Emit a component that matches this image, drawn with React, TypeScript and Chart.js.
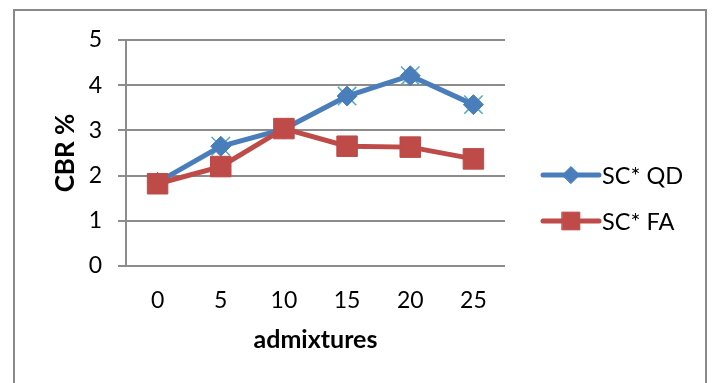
import React, { useEffect, useRef } from "react";
import { Chart, registerables } from "chart.js";
import { drawPoint } from "chart.js/helpers";

Chart.register(...registerables);

// Admixture content and CBR results for the two soil mixes
const admixtures = ["0", "5", "10", "15", "20", "25"];
const scQD = [1.85, 2.65, 3.03, 3.76, 4.21, 3.57];
const scFA = [1.82, 2.2, 3.04, 2.65, 2.63, 2.37];
const yTicks = [0, 1, 2, 3, 4, 5];

const BLUE = "#4A7EBB";
const RED = "#BE4B48";
const TEAL = "#4BACC6";
const GRID = "#8c8c8c";
const FONT = "Lato, 'Open Sans', sans-serif";

// Outer frame around the whole chart
const framePlugin = {
  id: "frame",
  beforeDraw(chart: any) {
    const { ctx } = chart;
    ctx.save();
    ctx.fillStyle = "#ffffff";
    ctx.fillRect(0, 0, chart.width, chart.height);
    ctx.strokeStyle = "#898989";
    ctx.lineWidth = 2;
    ctx.strokeRect(14, 10, chart.width - 21, chart.height + 20);
    ctx.restore();
  },
};

// Legend to the right of the plot: line segment with centred marker, then label
const sideLegendPlugin = {
  id: "sideLegend",
  afterDraw(chart: any) {
    const { ctx, chartArea } = chart;
    const items = chart.data.datasets
      .filter((d: any) => d.legendIndex !== undefined)
      .sort((a: any, b: any) => a.legendIndex - b.legendIndex);
    const x0 = chartArea.right + 38;
    const x1 = x0 + 56;
    const yStart = 175;
    const gap = 46;
    ctx.save();
    items.forEach((ds: any, i: number) => {
      const y = yStart + i * gap;
      ctx.strokeStyle = ds.borderColor;
      ctx.lineWidth = ds.borderWidth;
      ctx.lineCap = "round";
      ctx.beginPath();
      ctx.moveTo(x0, y);
      ctx.lineTo(x1, y);
      ctx.stroke();
      ctx.fillStyle = ds.pointBackgroundColor;
      ctx.strokeStyle = ds.pointBorderColor;
      ctx.lineWidth = 1;
      drawPoint(
        ctx,
        { pointStyle: ds.pointStyle, radius: ds.legendRadius, borderWidth: 1, rotation: 0 } as any,
        (x0 + x1) / 2,
        y
      );
      ctx.fillStyle = "#000000";
      ctx.font = `23.5px ${FONT}`;
      ctx.textBaseline = "middle";
      ctx.textAlign = "left";
      ctx.fillText(ds.label, x1 + 3, y + 1);
    });
    ctx.restore();
  },
};

export default function App() {
  const canvasRef = useRef<HTMLCanvasElement | null>(null);

  useEffect(() => {
    document.body.style.margin = "0";
    const canvas = canvasRef.current;
    if (!canvas) return;
    const chart = new Chart(canvas, {
      type: "line",
      data: {
        labels: admixtures,
        datasets: [
          {
            label: "SC* QD",
            data: scQD,
            borderColor: BLUE,
            borderWidth: 5,
            pointStyle: "rectRot",
            pointRadius: 10,
            legendRadius: 8.5,
            pointBackgroundColor: BLUE,
            pointBorderColor: BLUE,
            pointBorderWidth: 1,
            order: 2,
            legendIndex: 0,
          } as any,
          {
            label: "SC* FA",
            data: scFA,
            borderColor: RED,
            borderWidth: 5,
            pointStyle: "rect",
            pointRadius: 14.5,
            legendRadius: 12.5,
            pointBackgroundColor: RED,
            pointBorderColor: RED,
            pointBorderWidth: 1,
            order: 1,
            legendIndex: 1,
          } as any,
          {
            // cross markers sitting behind the SC* QD diamonds
            label: "SC* QD markers",
            data: scQD,
            showLine: false,
            pointStyle: "crossRot",
            pointRadius: 13,
            pointBorderColor: TEAL,
            pointBackgroundColor: TEAL,
            pointBorderWidth: 1.5,
            borderColor: TEAL,
            order: 3,
          } as any,
        ],
      },
      options: {
        animation: false,
        responsive: false,
        devicePixelRatio: 1,
        layout: { padding: { left: 0, right: 208, top: 40, bottom: 0 } },
        plugins: {
          legend: { display: false },
          tooltip: { enabled: false },
        },
        scales: {
          x: {
            offset: true,
            grid: { display: false },
            border: { display: false },
            ticks: { color: "#000", font: { family: FONT, size: 23 }, padding: 13 },
            title: {
              display: true,
              text: "admixtures",
              color: "#000",
              font: { family: FONT, size: 25, weight: "bold" },
              padding: { top: 0, bottom: 28 },
            },
            afterFit(scale: any) {
              scale.height = 117;
            },
          },
          y: {
            min: 0,
            max: 5,
            afterBuildTicks(scale: any) {
              scale.ticks = yTicks.map((v) => ({ value: v }));
            },
            grid: { color: GRID, lineWidth: 2, tickLength: 8, drawTicks: true },
            border: { display: true, color: GRID, width: 2 },
            ticks: { color: "#000", font: { family: FONT, size: 23 }, padding: 16 },
            title: {
              display: true,
              text: "CBR %",
              color: "#000",
              font: { family: FONT, size: 26, weight: "bold" },
              padding: { top: 50, bottom: 0 },
            },
            afterFit(scale: any) {
              scale.width = 126;
            },
          },
        },
      },
      plugins: [framePlugin, sideLegendPlugin],
    });
    return () => chart.destroy();
  }, []);

  return (
    <div style={{ position: "relative", width: 713, height: 383 }}>
      <canvas ref={canvasRef} width={713} height={383} style={{ display: "block" }} />
    </div>
  );
}
